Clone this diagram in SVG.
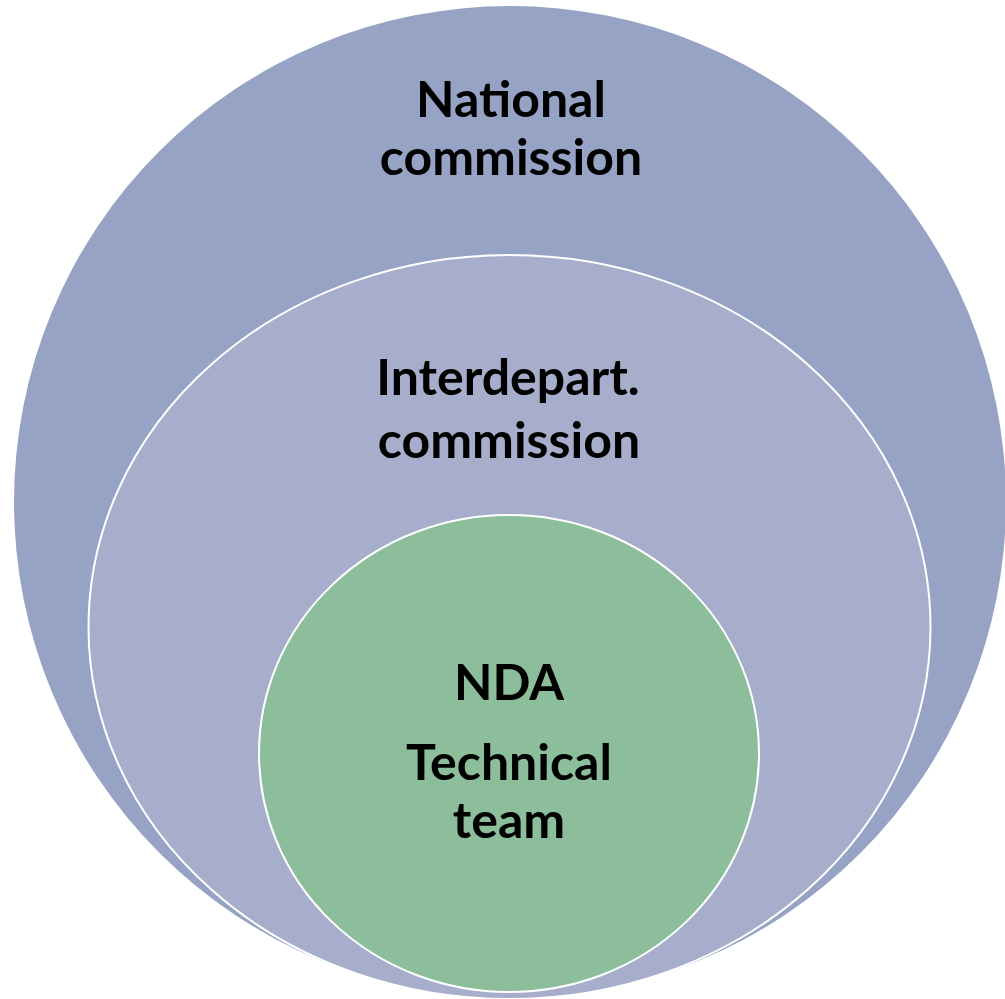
<svg xmlns="http://www.w3.org/2000/svg" width="1005" height="999" viewBox="0 0 1005 999">
<style>
.lbl{font-family:Lato,"Open Sans","Liberation Sans",sans-serif;font-weight:700;font-size:50px;fill:#000;text-anchor:middle}
</style>
<rect width="1005" height="999" fill="#fff"/>
<g id="national">
<circle cx="510" cy="502" r="496" fill="#97A3C4"/>
<text class="lbl" x="511" y="117">National</text>
<text class="lbl" x="511" y="175">commission</text>
</g>
<g id="interdepart">
<ellipse cx="509.5" cy="627" rx="421" ry="372" fill="#A7AECB" stroke="#fff" stroke-width="2"/>
<text class="lbl" x="508" y="395">Interdepart.</text>
<text class="lbl" x="509" y="458">commission</text>
</g>
<g id="nda">
<ellipse cx="509" cy="753.5" rx="250" ry="238.5" fill="#8CBE9C" stroke="#fff" stroke-width="2"/>
<text class="lbl" x="509" y="700">NDA</text>
<text class="lbl" x="509" y="780">Technical</text>
<text class="lbl" x="509" y="838">team</text>
</g>
<g id="connectors"/>
</svg>
